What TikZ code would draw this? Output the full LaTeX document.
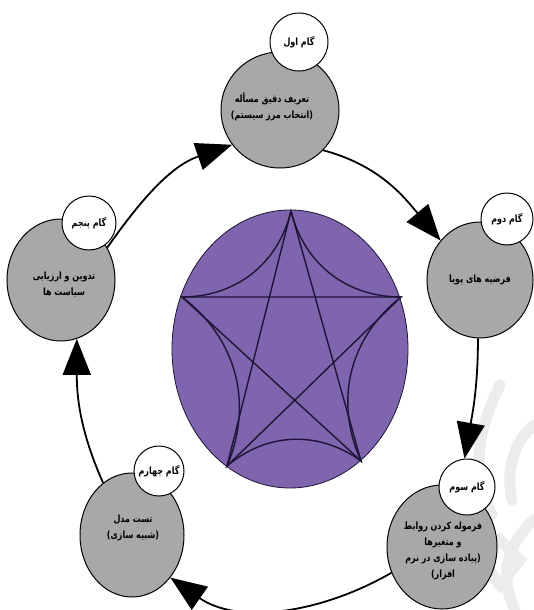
\documentclass[tikz,border=0pt]{standalone}
\usepackage{fontspec}
\TeXXeTstate=1
\newfontfamily\fafont[Script=Arabic, FakeStretch=0.8]{DejaVu Sans}
\usetikzlibrary{shapes.geometric,arrows.meta}
\definecolor{stagegray}{RGB}{168,168,168}
\definecolor{starfill}{RGB}{127,101,173}
\definecolor{starline}{RGB}{30,20,55}
\definecolor{wmark}{RGB}{236,236,236}
\newcommand{\rtl}[1]{\beginR #1\endR}

\begin{document}
\begin{tikzpicture}[x=1pt,y=-1pt,
  stage/.style={ellipse, draw=black, line width=1pt, fill=stagegray, inner sep=0pt},
  tag/.style={circle, draw=black, line width=1pt, fill=white, inner sep=0pt},
  txt/.style={font=\fafont\bfseries\fontsize{10}{16}\selectfont, align=center, inner sep=0pt},
  tagtxt/.style={font=\fafont\bfseries\fontsize{10}{12}\selectfont, inner sep=0pt},
  flow/.style={line width=1.8pt, -{Triangle[length=36pt,width=28pt]}},
  starln/.style={draw=starline, line width=1.4pt},
  ornament/.style={draw=wmark, line width=11pt, line cap=round}
]
\useasboundingbox (0,0) rectangle (534,610);
\fill[white] (0,0) rectangle (534,610);

% faint ornament in the lower right corner
\draw[ornament] (500,385) .. controls (478,430) and (470,470) .. (492,515);
\draw[ornament] (534,425) .. controls (515,440) and (505,470) .. (512,500);
\draw[ornament] (500,540) -- (520,560) -- (500,585) -- (482,560) -- cycle;
\draw[ornament] (534,520) .. controls (505,545) and (500,580) .. (515,610);

% central emblem
\node[ellipse, draw=starline, line width=0.8pt, fill=starfill, minimum width=236pt,
      minimum height=278pt, inner sep=0pt] (emblem) at (290,349) {};
\coordinate (p1) at (291,211);
\coordinate (p2) at (401,297);
\coordinate (p3) at (361,461);
\coordinate (p4) at (227,466);
\coordinate (p5) at (182,297);
\draw[starln] (p1) -- (p3) -- (p5) -- (p2) -- (p4) -- cycle;
\draw[starln] (p1) to[bend right=38] (p2) to[bend right=38] (p3)
  to[bend right=38] (p4) to[bend right=38] (p5) to[bend right=38] (p1);

% the five stages
\node[stage, minimum width=118pt, minimum height=116pt] (g1) at (280,110) {};
\node[stage, minimum width=106pt, minimum height=116pt] (g2) at (480,280) {};
\node[stage, minimum width=110pt, minimum height=124pt] (g3) at (442,547) {};
\node[stage, minimum width=104pt, minimum height=124pt] (g4) at (132,535) {};
\node[stage, minimum width=108pt, minimum height=122pt] (g5) at (61,280) {};

\node[tag, minimum size=58pt] (w1) at (299,42) {};
\node[tag, minimum size=52pt] (w2) at (507,219) {};
\node[tag, minimum size=56pt] (w3) at (467,487) {};
\node[tag, minimum size=50pt] (w4) at (159,471) {};
\node[tag, minimum size=54pt] (w5) at (89,223) {};

\node[tagtxt] (l1) at (w1) {\rtl{گام اول}};
\node[tagtxt] (l2) at (w2) {\rtl{گام دوم}};
\node[tagtxt] (l3) at (w3) {\rtl{گام سوم}};
\node[tagtxt] (l4) at (w4) {\rtl{گام چهارم}};
\node[tagtxt] (l5) at (w5) {\rtl{گام پنجم}};

\node[txt] (t1) at (272,107) {\rtl{تعریف دقیق مسأله}\\\rtl{(انتخاب مرز سیستم)}};
\node[txt] (t2) at (480,280) {\rtl{فرضیه های پویا}};
\node[txt] (t3) at (443,551) {\rtl{فرموله کردن روابط}\\\rtl{و متغیرها}\\\rtl{(پیاده سازی در نرم}\\\rtl{افزار)}};
\node[txt] (t4) at (133,528) {\rtl{تست مدل}\\\rtl{(شبیه سازی)}};
\node[txt] (t5) at (64,285) {\rtl{تدوین و ارزیابی}\\\rtl{سیاست ها}};

% cycle of connectors
\draw[flow] (g1.-43) to[out=-15, in=130] (g2.135);
\draw[flow] (g2.-92) to[out=-90, in=80] (w3.95);
\draw[flow] (g3.207) to[out=210, in=-35, looseness=0.95] (g4.-48);
\draw[flow] (g4.119) to[out=114, in=-90] (g5.-75);
\draw[flow] (g5.35) to[out=55, in=199] (g1.216);
\end{tikzpicture}
\end{document}
